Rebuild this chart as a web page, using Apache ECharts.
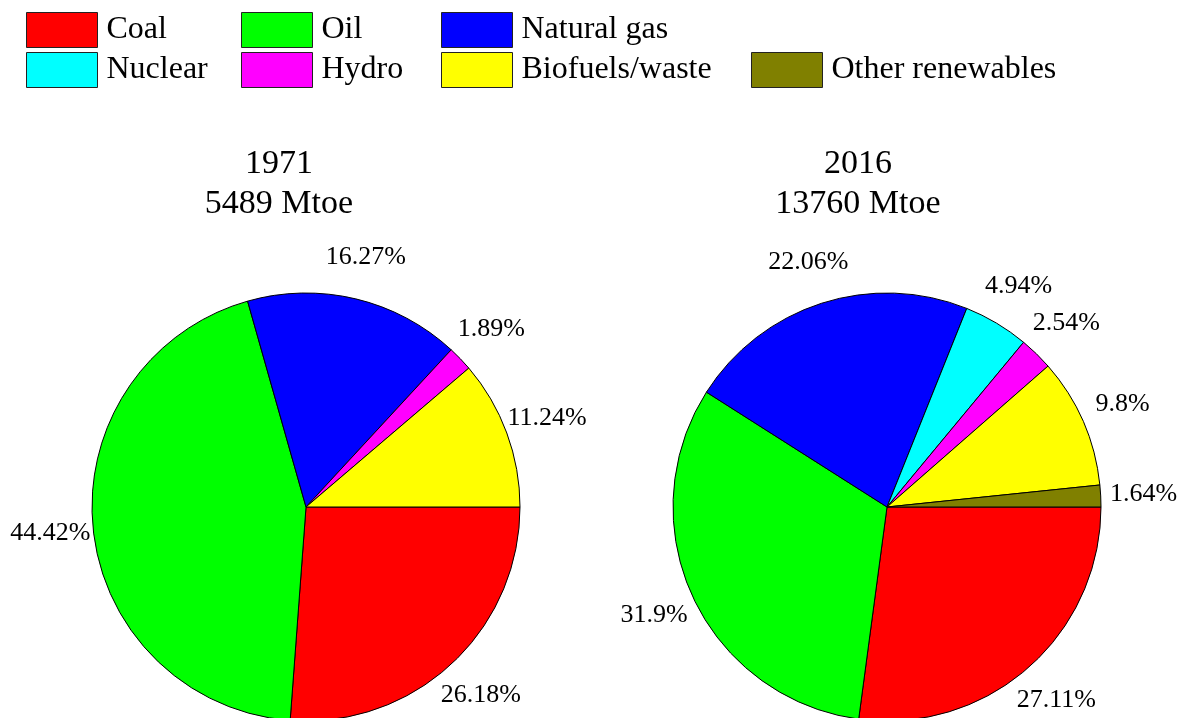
<!DOCTYPE html>
<html>
<head>
<meta charset="utf-8">
<script src="https://cdn.jsdelivr.net/npm/echarts@6/dist/echarts.min.js"></script>
<style>
html,body{margin:0;padding:0;background:#fff;}
#chart{width:1184px;height:718px;}
</style>
</head>
<body>
<div id="chart"></div>
<script>
const categories = ['Coal', 'Oil', 'Natural gas', 'Nuclear', 'Hydro', 'Biofuels/waste', 'Other renewables'];
const colors = ['#FF0000', '#00FF00', '#0000FF', '#00FFFF', '#FF00FF', '#FFFF00', '#808000'];
const values1971 = [26.18, 44.42, 16.27, null, 1.89, 11.24, null];
const values2016 = [27.11, 31.9, 22.06, 4.94, 2.54, 9.8, 1.64];
const titles = ['1971\n5489 Mtoe', '2016\n13760 Mtoe'];

const FONT = "'Liberation Serif', 'Times New Roman', serif";

function buildData(vals) {
  const out = [];
  vals.forEach((v, i) => {
    if (v !== null) out.push({ name: categories[i], value: v, itemStyle: { color: colors[i] } });
  });
  return out;
}

const centers = [[306, 507], [887, 507]];
const titleX = [279, 858];
const R = 214;
const series = [];
[values1971, values2016].forEach((vals, k) => {
  series.push({
    type: 'pie',
    center: centers[k],
    radius: [0, R],
    startAngle: 0,
    clockwise: true,
    data: buildData(vals),
    itemStyle: { borderColor: '#000', borderWidth: 1 },
    label: { show: false },
    labelLine: { show: false },
    emphasis: { disabled: true },
    animation: false
  });
});
[values1971, values2016].forEach((vals, k) => {
  series.push({
    type: 'pie',
    center: centers[k],
    radius: [244, 264],
    startAngle: 0,
    clockwise: true,
    silent: true,
    data: buildData(vals).map(d => ({ name: d.name, value: d.value, itemStyle: { color: 'rgba(0,0,0,0)' } })),
    itemStyle: { borderWidth: 0 },
    label: {
      show: true,
      position: 'inside',
      formatter: '{c}%',
      fontFamily: FONT,
      fontSize: 26,
      color: '#000'
    },
    labelLine: { show: false },
    emphasis: { disabled: true },
    animation: false
  });
});

const legendPos = [
  [26, 12], [241, 12], [441, 12],
  [26, 52], [241, 52], [441, 52], [751, 52]
];
const legends = categories.map((c, i) => ({
  data: [c],
  left: legendPos[i][0],
  top: legendPos[i][1],
  padding: 0,
  icon: 'rect',
  itemWidth: 71,
  itemHeight: 35,
  selectedMode: false,
  itemStyle: { borderColor: '#222', borderWidth: 1 },
  textStyle: { fontFamily: FONT, fontSize: 32, color: '#000', padding: [0, 0, 0, 4] }
}));

const chart = echarts.init(document.getElementById('chart'));
chart.setOption({
  backgroundColor: '#fff',
  animation: false,
  title: titles.map((t, k) => ({
    text: t,
    left: titleX[k],
    top: 144,
    textAlign: 'center',
    padding: 0,
    textStyle: { fontFamily: FONT, fontSize: 34, fontWeight: 'normal', color: '#000', lineHeight: 40 }
  })),
  legend: legends,
  series: series
});
</script>
</body>
</html>
